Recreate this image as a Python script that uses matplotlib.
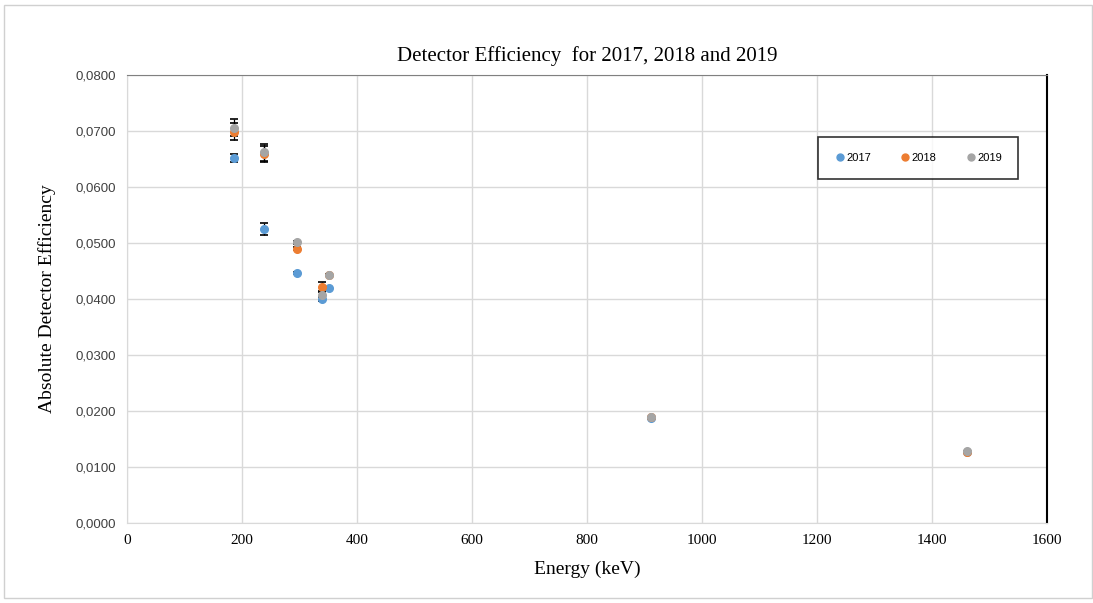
import matplotlib
matplotlib.use("Agg")
import matplotlib.pyplot as plt
from matplotlib.ticker import FuncFormatter, MultipleLocator
from matplotlib.patches import Rectangle

# Data
energy = [186.2, 238.6, 295.2, 338.3, 351.9, 911.2, 1460.8]
eff_2017 = [0.0652, 0.0525, 0.0446, 0.0400, 0.0419, 0.0187, 0.0127]
eff_2018 = [0.0699, 0.0659, 0.0490, 0.0422, 0.0443, 0.0189, 0.0126]
eff_2019 = [0.0706, 0.0662, 0.0501, 0.0408, 0.0443, 0.0189, 0.0128]
err_2017 = [0.0007, 0.0011, 0.0002, 0.0003, 0.0002, 0.0001, 0.0001]
err_2018 = [0.0015, 0.0015, 0.0002, 0.0008, 0.0002, 0.0001, 0.0001]
err_2019 = [0.0015, 0.0015, 0.0002, 0.0004, 0.0002, 0.0001, 0.0001]
years = ["2017", "2018", "2019"]
colors = ["#5B9BD5", "#ED7D31", "#A5A5A5"]

fig = plt.figure(figsize=(10.93, 6.03), dpi=100)
ax = fig.add_axes([0.1162, 0.1327, 0.958 - 0.1162, 0.8756 - 0.1327])

# outer chart border
fig.patches.append(Rectangle((0.004, 0.008), 0.995, 0.984, transform=fig.transFigure,
                             fill=False, edgecolor="#D0D0D0", linewidth=1.0))

series = [eff_2017, eff_2018, eff_2019]
errs = [err_2017, err_2018, err_2019]
for y, e, c, lab in zip(series, errs, colors, years):
    ax.errorbar(energy, y, yerr=e, fmt="o", color=c, ecolor="black", elinewidth=0.9,
                capsize=3, capthick=1.2, markersize=5.5, label=lab, zorder=3)

ax.set_xlim(0, 1600)
ax.set_ylim(0, 0.08)
ax.xaxis.set_major_locator(MultipleLocator(200))
ax.yaxis.set_major_locator(MultipleLocator(0.01))
ax.yaxis.set_major_formatter(FuncFormatter(lambda v, p: f"{v:.4f}".replace(".", ",")))
ax.grid(True, color="#D9D9D9", linewidth=1.0, zorder=0)
ax.set_axisbelow(True)
ax.tick_params(length=0, pad=8)
for lab in ax.get_xticklabels():
    lab.set_fontfamily("Liberation Serif")
    lab.set_fontsize(11)
for lab in ax.get_yticklabels():
    lab.set_fontfamily("Liberation Sans")
    lab.set_fontsize(9.5)
    lab.set_color("#404040")

for s in ["left", "bottom"]:
    ax.spines[s].set_color("#D9D9D9")
ax.spines["top"].set_color("#808080")
ax.spines["right"].set_color("black")
ax.spines["right"].set_linewidth(1.5)

ax.set_title("Detector Efficiency  for 2017, 2018 and 2019", fontfamily="Liberation Serif",
             fontsize=15, pad=10)
ax.set_xlabel("Energy (keV)", fontfamily="Liberation Serif", fontsize=14, labelpad=10)
ax.set_ylabel("Absolute Detector Efficiency", fontfamily="Liberation Serif", fontsize=14,
              labelpad=14)

handles = [plt.Line2D([], [], marker="o", linestyle="none", color=c, markersize=5)
           for c in colors]
x0 = (818 - 127) / 920
x1 = (1018 - 127) / 920
ytop = (523 - 137) / 448
leg = ax.legend(handles, years, loc="upper left",
                bbox_to_anchor=(x0, ytop - 0.2, x1 - x0, 0.2), mode="expand", ncol=3,
                frameon=True, fancybox=False, edgecolor="black",
                prop={"family": "Liberation Sans", "size": 8},
                handletextpad=0.1, borderpad=1.45, handlelength=1.0, borderaxespad=0)
leg.get_frame().set_linewidth(1.2)

fig.savefig("out.png", dpi=100)
